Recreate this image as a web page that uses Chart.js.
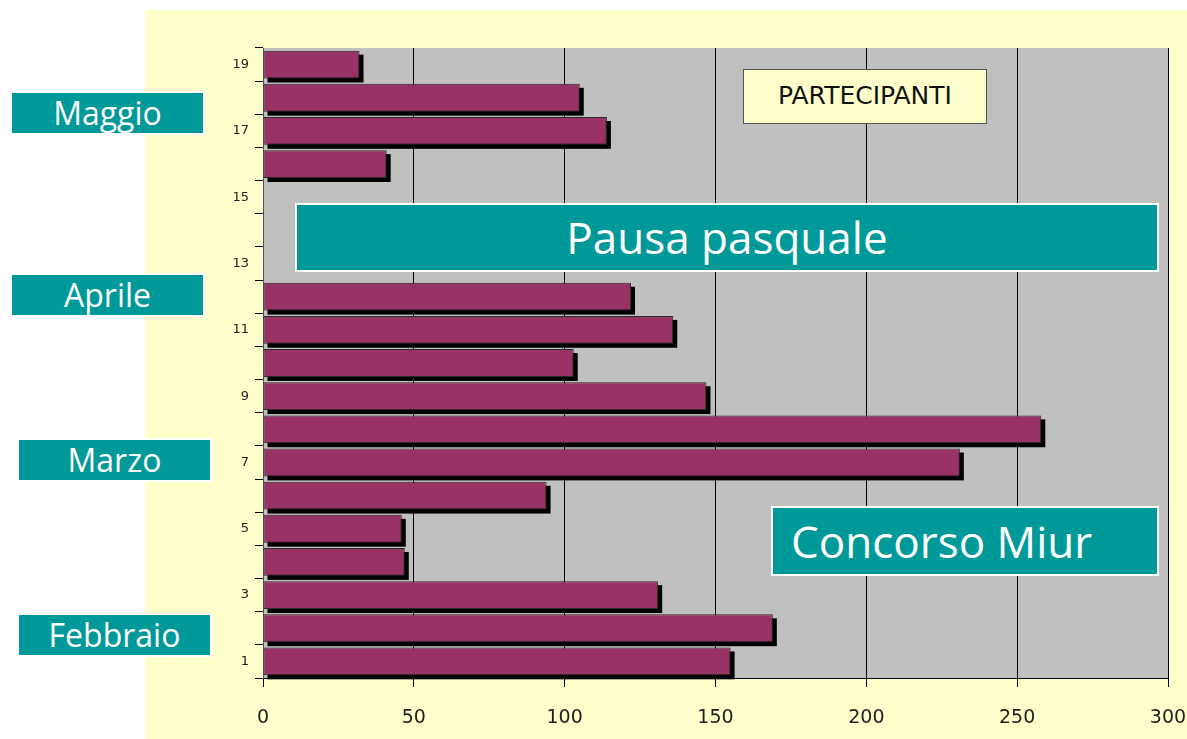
<!DOCTYPE html>
<html>
<head>
<meta charset="utf-8">
<script src="https://cdn.jsdelivr.net/npm/chart.js@4/dist/chart.umd.min.js"></script>
<style>
  html, body { margin: 0; padding: 0; background: #fff; }
  #wrap { position: relative; width: 1187px; height: 739px; overflow: hidden; }
  #bg { position: absolute; left: 145px; top: 10px; width: 1042px; height: 729px; background: #FFFFCC; }
  canvas { position: absolute; left: 0; top: 0; }
  .box { position: absolute; background: #009999; color: #fff; border: 2px solid #fff;
         font-family: "Open Sans", sans-serif; text-align: center; box-sizing: border-box; }
  .month { width: 195px; height: 44px; font-size: 32px; line-height: 40px; }
  #legend { position: absolute; left: 743px; top: 69px; width: 244px; height: 55px; box-sizing: border-box;
            background: #FFFFCC; border: 1px solid #555; font-family: "DejaVu Sans", sans-serif; font-size: 25px;
            line-height: 52px; text-align: center; color: #111; }
</style>
</head>
<body>
<div id="wrap">
  <div id="bg"></div>
  <canvas id="chart" width="1187" height="739"></canvas>
  <div class="box month" style="left:10px;top:91px;">Maggio</div>
  <div class="box month" style="left:10px;top:273px;">Aprile</div>
  <div class="box month" style="left:17px;top:438px;">Marzo</div>
  <div class="box month" style="left:17px;top:613px;">Febbraio</div>
  <div class="box" style="left:295px;top:203px;width:864px;height:69px;font-size:44px;line-height:64px;">Pausa pasquale</div>
  <div class="box" style="left:771px;top:506px;width:388px;height:70px;font-size:44px;line-height:66px;text-align:left;padding-left:18px;">Concorso Miur</div>
  <div id="legend">PARTECIPANTI</div>
</div>
<script>
// lezioni numerate dal basso verso l'alto
const lezioni = ["1", "2", "3", "4", "5", "6", "7", "8", "9", "10",
                 "11", "12", "13", "14", "15", "16", "17", "18", "19"];
const partecipanti = [155, 169, 131, 47, 46, 94, 231, 258, 147, 103,
                      136, 122, null, null, null, 41, 114, 105, 32];
const tickValori = [0, 50, 100, 150, 200, 250, 300];

// sfondo grigio dell'area del grafico + ombre delle barre
const sfondoOmbre = {
  id: "sfondoOmbre",
  beforeDraw(chart) {
    const a = chart.chartArea, ctx = chart.ctx;
    ctx.save();
    ctx.fillStyle = "#C0C0C0";
    ctx.fillRect(a.left, a.top, a.right - a.left, a.bottom - a.top);
    ctx.restore();
  },
  beforeDatasetsDraw(chart) {
    const ctx = chart.ctx;
    ctx.save();
    ctx.fillStyle = "#000";
    chart.getDatasetMeta(0).data.forEach(function (bar, i) {
      if (partecipanti[i] == null) return;
      const h = bar.height;
      ctx.fillRect(bar.base + 4, bar.y - h / 2 + 4, bar.x - bar.base, h);
    });
    ctx.restore();
  }
};

const ctx = document.getElementById("chart").getContext("2d");
new Chart(ctx, {
  type: "bar",
  data: {
    labels: lezioni,
    datasets: [{
      data: partecipanti,
      backgroundColor: "#993366",
      borderColor: "#2a2a2a",
      borderWidth: 1,
      borderSkipped: false,
      barPercentage: 0.84,
      categoryPercentage: 1
    }]
  },
  options: {
    indexAxis: "y",
    responsive: false,
    animation: false,
    layout: { padding: { left: 200, right: 19, top: 48, bottom: 10 } },
    plugins: { legend: { display: false }, tooltip: { enabled: false } },
    scales: {
      x: {
        min: 0, max: 300,
        afterBuildTicks(scale) { scale.ticks = tickValori.map(v => ({ value: v })); },
        afterFit(scale) { scale.height = 51; scale.paddingRight = 0; scale.paddingLeft = 0; },
        grid: { color: "#000", lineWidth: 1, tickLength: 9, tickColor: "#000" },
        border: { color: "#000", width: 1 },
        ticks: { color: "#222", font: { family: "DejaVu Sans", size: 19 }, padding: 20 }
      },
      y: {
        reverse: true,
        afterFit(scale) { scale.width = 63; },
        grid: { offset: true, drawOnChartArea: false, tickLength: 8, tickColor: "#000" },
        border: { color: "#555", width: 1 },
        ticks: {
          autoSkip: false,
          color: "#222",
          font: { family: "DejaVu Sans", size: 13 },
          padding: 6,
          callback: function (v, i) { return (i % 2 === 0) ? lezioni[i] : ""; }
        }
      }
    }
  },
  plugins: [sfondoOmbre]
});
</script>
</body>
</html>
